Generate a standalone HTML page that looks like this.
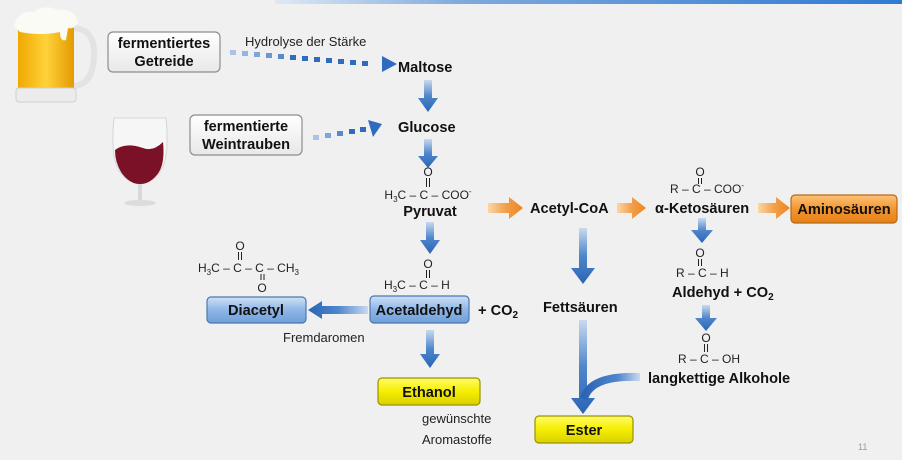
<!DOCTYPE html>
<html><head><meta charset="utf-8"><style>
html,body{margin:0;padding:0;background:#f0f0f0;}
svg{display:block;font-family:"Liberation Sans",Arial,sans-serif;}
.b{font-weight:bold;font-size:14.6px;fill:#111;}
.n{font-size:13px;fill:#222;}
.f{font-size:12px;fill:#222;}
</style></head><body>
<svg width="902" height="460" viewBox="0 0 902 460">
<defs>
<linearGradient id="topline" x1="0" x2="1"><stop offset="0" stop-color="#dfe9f5"/><stop offset="0.3" stop-color="#7ea9dc"/><stop offset="1" stop-color="#2f7bd2"/></linearGradient>
<linearGradient id="gd" x1="0" y1="0" x2="0" y2="1"><stop offset="0" stop-color="#c9d9ee"/><stop offset="0.5" stop-color="#4f86cc"/><stop offset="1" stop-color="#2a64b4"/></linearGradient>
<linearGradient id="gl" x1="1" y1="0" x2="0" y2="0"><stop offset="0" stop-color="#c9d9ee"/><stop offset="0.5" stop-color="#4f86cc"/><stop offset="1" stop-color="#2a64b4"/></linearGradient>
<linearGradient id="gc" x1="1" y1="0" x2="0" y2="0"><stop offset="0" stop-color="#c9d9ee"/><stop offset="0.4" stop-color="#4f86cc"/><stop offset="1" stop-color="#2a64b4"/></linearGradient>
<linearGradient id="go" x1="0" y1="0" x2="1" y2="0"><stop offset="0" stop-color="#fbd6a8"/><stop offset="0.5" stop-color="#f3a04a"/><stop offset="1" stop-color="#ec8420"/></linearGradient>
<linearGradient id="yel" x1="0" y1="0" x2="0" y2="1"><stop offset="0" stop-color="#fffb6a"/><stop offset="0.5" stop-color="#f5ee00"/><stop offset="1" stop-color="#d9cf00"/></linearGradient>
<linearGradient id="blu" x1="0" y1="0" x2="0" y2="1"><stop offset="0" stop-color="#cfe0f5"/><stop offset="0.5" stop-color="#8fb6e6"/><stop offset="1" stop-color="#6f9fd9"/></linearGradient>
<linearGradient id="ora" x1="0" y1="0" x2="0" y2="1"><stop offset="0" stop-color="#fcc27a"/><stop offset="0.5" stop-color="#f4962e"/><stop offset="1" stop-color="#e4801a"/></linearGradient>
<linearGradient id="wht" x1="0" y1="0" x2="0" y2="1"><stop offset="0" stop-color="#ffffff"/><stop offset="1" stop-color="#e8e8e8"/></linearGradient>
<linearGradient id="beer" x1="0" y1="0" x2="1" y2="0"><stop offset="0" stop-color="#f0a800"/><stop offset="0.5" stop-color="#ffd23a"/><stop offset="1" stop-color="#e39a00"/></linearGradient>
</defs>
<rect x="275" y="0" width="627" height="4" fill="url(#topline)"/>

<g>
<path d="M72 28 q24 0 22 30 q-2 28 -22 28" fill="none" stroke="#e3e3e3" stroke-width="6"/>
<rect x="18" y="22" width="56" height="70" rx="4" fill="url(#beer)"/>
<rect x="16" y="88" width="60" height="14" rx="3" fill="#ececec" stroke="#d0d0d0"/>
<path d="M14 26 q4 -16 20 -14 q10 -8 24 -2 q16 -2 20 12 q-4 8 -10 6 l-2 12 q-6 2 -6 -8 q-20 4 -40 0 z" fill="#fbfbf6"/>
</g>
<g>
<path d="M114 118 q-4 40 6 54 q10 12 20 12 q10 0 20 -12 q10 -14 6 -54 z" fill="#f6f6f6" stroke="#d6d6d6"/>
<path d="M115 150 q10 -8 28 -2 q10 4 20 -6 q2 20 -4 30 q-8 12 -19 12 q-11 0 -19 -12 q-6 -10 -6 -22 z" fill="#7a1126"/>
<rect x="138" y="184" width="4" height="18" fill="#d8d8d8"/>
<ellipse cx="140" cy="203" rx="16" ry="3" fill="#dcdcdc"/>
</g>

<g>
<rect x="108" y="32" width="112" height="40" rx="5" fill="url(#wht)" stroke="#8d8d8d" stroke-width="1.2"/>
<text x="164" y="48" text-anchor="middle" class="b">fermentiertes</text>
<text x="164" y="66" text-anchor="middle" class="b">Getreide</text>
</g>
<g>
<rect x="190" y="115" width="112" height="40" rx="5" fill="url(#wht)" stroke="#8d8d8d" stroke-width="1.2"/>
<text x="246" y="131" text-anchor="middle" class="b">fermentierte</text>
<text x="246" y="149" text-anchor="middle" class="b">Weintrauben</text>
</g>
<text x="245" y="46" class="n">Hydrolyse der Stärke</text>

<g fill="#2f6cbf">
<rect x="230" y="50" width="6" height="5" fill="#a9c2e6"/><rect x="242" y="51" width="6" height="5" fill="#94b3e0"/>
<rect x="254" y="52" width="6" height="5" fill="#7fa4d9"/><rect x="266" y="53" width="6" height="5" fill="#6a96d3"/>
<rect x="278" y="54" width="6" height="5" fill="#5889cd"/><rect x="290" y="55" width="6" height="5"/>
<rect x="302" y="56" width="6" height="5"/><rect x="314" y="57" width="6" height="5"/><rect x="326" y="58" width="6" height="5"/>
<rect x="338" y="59" width="6" height="5"/><rect x="350" y="60" width="6" height="5"/><rect x="362" y="61" width="6" height="5"/>
<polygon points="382,56 397,64 382,72"/>
</g>
<g fill="#2f6cbf">
<rect x="313" y="135" width="6" height="5" fill="#a9c2e6"/><rect x="325" y="133" width="6" height="5" fill="#7fa4d9"/>
<rect x="337" y="131" width="6" height="5" fill="#5889cd"/><rect x="349" y="129" width="6" height="5"/>
<rect x="360" y="127" width="6" height="5"/>
<polygon points="368,120 382,124 373,137"/>
</g>

<text x="398" y="72" class="b">Maltose</text>
<text x="398" y="132" class="b">Glucose</text>

<g fill="url(#gd)">
<polygon points="424,80 432,80 432,98 438,98 428,112 418,98 424,98"/>
<polygon points="424,139 432,139 432,156 438,156 428,168 418,156 424,156"/>
<polygon points="426,222 434,222 434,240 440,240 430,254 420,240 426,240"/>
<polygon points="426,330 434,330 434,354 440,354 430,368 420,354 426,354"/>
<polygon points="579,228 587,228 587,268 595,268 583,284 571,268 579,268"/>
<polygon points="698,218 706,218 706,230 713,230 702,243 691,230 698,230"/>
<polygon points="702,305 710,305 710,318 717,318 706,331 695,318 702,318"/>
</g>
<polygon points="368,306 368,314 322,314 322,319 308,310 322,301 322,306" fill="url(#gl)"/>
<g>
<polygon points="579,320 587,320 587,398 595,398 583,414 571,398 579,398" fill="url(#gd)"/>
<path d="M640 377 q-50 -2 -56 22" fill="none" stroke="url(#gc)" stroke-width="8"/>
</g>

<g>
<text x="428" y="176" text-anchor="middle" class="f">O</text>
<path d="M426.5 178v9M429.5 178v9" stroke="#222"/>
<text x="428" y="199" text-anchor="middle" class="f">H<tspan font-size="8" dy="3">3</tspan><tspan dy="-3">C – C – COO</tspan><tspan font-size="8" dy="-5">-</tspan></text>
<text x="430" y="216" text-anchor="middle" class="b">Pyruvat</text>
</g>

<g fill="url(#go)">
<polygon points="488,203 509,203 509,197 523,208 509,219 509,213 488,213"/>
<polygon points="617,203 632,203 632,197 646,208 632,219 632,213 617,213"/>
<polygon points="758,203 776,203 776,197 790,208 776,219 776,213 758,213"/>
</g>
<text x="530" y="213" class="b">Acetyl-CoA</text>
<g>
<text x="700" y="176" text-anchor="middle" class="f">O</text>
<path d="M698.5 178v6M701.5 178v6" stroke="#222"/>
<text x="670" y="193" class="f">R – C – COO<tspan font-size="8" dy="-5">-</tspan></text>
<text x="655" y="213" class="b">α-Ketosäuren</text>
</g>
<g>
<rect x="791" y="195" width="106" height="28" rx="4" fill="url(#ora)" stroke="#b86a14" stroke-width="1.2"/>
<text x="844" y="214" text-anchor="middle" class="b">Aminosäuren</text>
</g>

<g>
<text x="240" y="250" text-anchor="middle" class="f">O</text>
<path d="M238.5 252v8M241.5 252v8" stroke="#222"/>
<text x="198" y="272" class="f">H<tspan font-size="8" dy="3">3</tspan><tspan dy="-3">C – C – C – CH</tspan><tspan font-size="8" dy="3">3</tspan></text>
<path d="M261 274v6M264 274v6" stroke="#222"/>
<text x="262" y="292" text-anchor="middle" class="f">O</text>
</g>
<g>
<rect x="207" y="297" width="99" height="26" rx="4" fill="url(#blu)" stroke="#4a78b0" stroke-width="1.2"/>
<text x="256" y="315" text-anchor="middle" class="b">Diacetyl</text>
</g>
<text x="283" y="342" class="n">Fremdaromen</text>

<g>
<text x="428" y="268" text-anchor="middle" class="f">O</text>
<path d="M426.5 270v8M429.5 270v8" stroke="#222"/>
<text x="384" y="289" class="f">H<tspan font-size="8" dy="3">3</tspan><tspan dy="-3">C – C – H</tspan></text>
</g>
<g>
<rect x="370" y="296" width="99" height="27" rx="4" fill="url(#blu)" stroke="#4a78b0" stroke-width="1.2"/>
<text x="419" y="315" text-anchor="middle" class="b">Acetaldehyd</text>
</g>
<text x="478" y="315" class="b">+ CO<tspan font-size="10" dy="3">2</tspan></text>

<g>
<rect x="378" y="378" width="102" height="27" rx="4" fill="url(#yel)" stroke="#9a9200" stroke-width="1.2"/>
<text x="429" y="397" text-anchor="middle" class="b">Ethanol</text>
</g>
<text x="422" y="423" class="n">gewünschte</text>
<text x="422" y="444" class="n">Aromastoffe</text>

<text x="543" y="312" class="b">Fettsäuren</text>
<g>
<rect x="535" y="416" width="98" height="27" rx="4" fill="url(#yel)" stroke="#9a9200" stroke-width="1.2"/>
<text x="584" y="435" text-anchor="middle" class="b">Ester</text>
</g>

<g>
<text x="700" y="257" text-anchor="middle" class="f">O</text>
<path d="M698.5 259v7M701.5 259v7" stroke="#222"/>
<text x="676" y="277" class="f">R – C – H</text>
<text x="672" y="297" class="b">Aldehyd + CO<tspan font-size="10" dy="3">2</tspan></text>
</g>
<g>
<text x="706" y="342" text-anchor="middle" class="f">O</text>
<path d="M704.5 344v8M707.5 344v8" stroke="#222"/>
<text x="678" y="363" class="f">R – C – OH</text>
<text x="648" y="383" class="b">langkettige Alkohole</text>
</g>
<text x="858" y="450" font-size="9" fill="#999">11</text>
</svg>
</body></html>
